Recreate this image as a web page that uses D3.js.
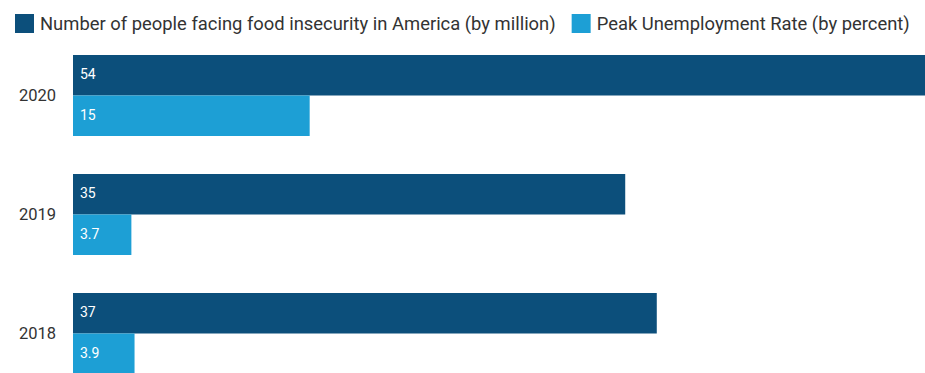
<!DOCTYPE html>
<html>
<head>
<meta charset="utf-8">
<script src="https://cdn.jsdelivr.net/npm/d3@7"></script>
<style>
  body { margin: 0; background: #fff; }
  svg { display: block; font-family: Roboto, "Noto Sans", sans-serif; }
</style>
</head>
<body>
<div id="chart"></div>
<script>
// Data
const years = ["2020", "2019", "2018"];
const seriesNames = ["Number of people facing food insecurity in America (by million)", "Peak Unemployment Rate (by percent)"];
const foodInsecurity = [54, 35, 37];
const unemployment = [15, 3.7, 3.9];
const seriesColors = ["#0c4f7b", "#1d9fd5"];

const width = 925, height = 373;
const margin = { top: 55, left: 73, right: 0 };

const svg = d3.select("#chart")
    .append("svg")
    .attr("width", width)
    .attr("height", height);

// Scales
const x = d3.scaleLinear()
    .domain([0, 54])
    .range([margin.left, width - margin.right]);

const y = d3.scaleBand()
    .domain(years)
    .range([margin.top, margin.top + 2 * 119 + 81])
    .paddingInner(38 / 119)
    .paddingOuter(0);

const inner = d3.scaleBand()
    .domain([0, 1])
    .range([0, y.bandwidth()]);

const rows = years.map((yr, i) => ({
    year: yr,
    values: [foodInsecurity[i], unemployment[i]]
}));

// Bars
const groups = svg.selectAll(".year")
    .data(rows)
    .enter()
    .append("g")
    .attr("class", "year")
    .attr("transform", d => `translate(0,${y(d.year)})`);

groups.selectAll("rect")
    .data(d => d.values)
    .enter()
    .append("rect")
    .attr("x", x(0))
    .attr("y", (d, i) => inner(i))
    .attr("width", d => x(d) - x(0))
    .attr("height", inner.bandwidth())
    .attr("fill", (d, i) => seriesColors[i]);

groups.selectAll(".val")
    .data(d => d.values)
    .enter()
    .append("text")
    .attr("class", "val")
    .attr("x", x(0) + 7)
    .attr("y", (d, i) => inner(i) + inner.bandwidth() / 2 - 1)
    .attr("dy", "0.35em")
    .attr("fill", "#fff")
    .style("font-size", "14px")
    .text(d => d);

// Year axis labels
const yAxis = d3.axisLeft(y).tickSize(0).tickPadding(17);
const yg = svg.append("g")
    .attr("transform", `translate(${x(0)},0)`)
    .call(yAxis);
yg.select(".domain").remove();
yg.selectAll("text")
    .style("font-size", "16.5px")
    .style("font-family", "Roboto, sans-serif")
    .attr("fill", "#333");

// Legend
const legend = svg.append("g").attr("transform", "translate(15,14)");
let lx = 0;
seriesNames.forEach((name, i) => {
    legend.append("rect")
        .attr("x", lx)
        .attr("y", 0)
        .attr("width", 19)
        .attr("height", 19)
        .attr("fill", seriesColors[i]);
    const t = legend.append("text")
        .attr("x", lx + 25)
        .attr("y", 10)
        .attr("dy", "0.35em")
        .attr("fill", "#333")
        .style("font-size", "18.4px")
        .text(name);
    lx += 25 + t.node().getComputedTextLength() + 16;
});
</script>
</body>
</html>
